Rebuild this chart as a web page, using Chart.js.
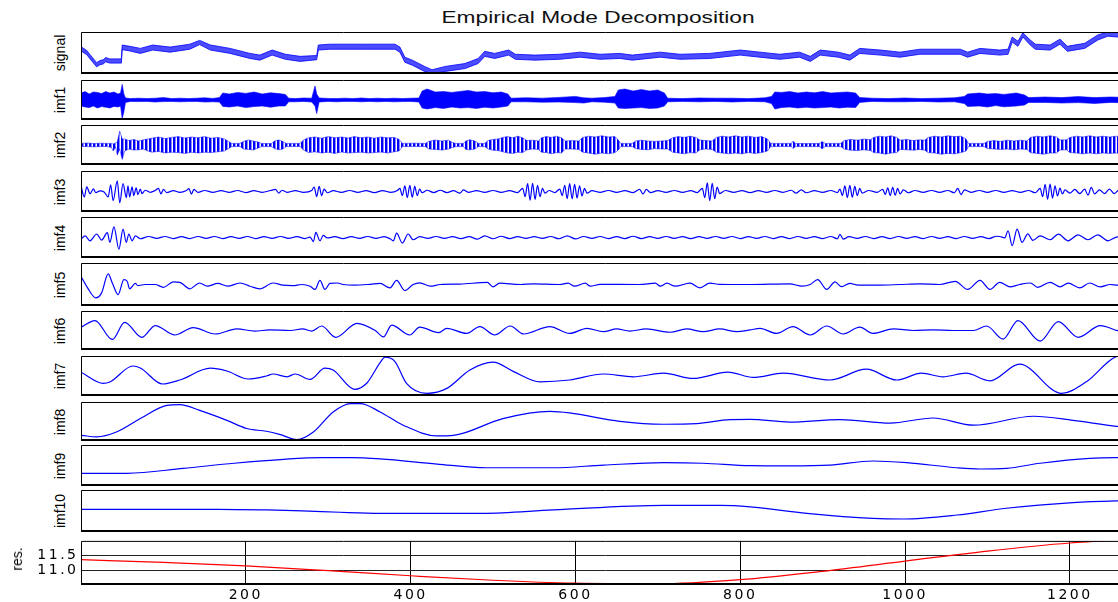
<!DOCTYPE html>
<html>
<head>
<meta charset="utf-8">
<title>Empirical Mode Decomposition</title>
<script src="https://cdn.jsdelivr.net/npm/chart.js@4.4.1/dist/chart.umd.min.js"></script>
<style>
  html, body { margin: 0; padding: 0; background: #fff; }
  body { position: relative; width: 1118px; height: 602px; overflow: hidden; font-family: "Liberation Sans", Arial, sans-serif; color: #000; }
  canvas { position: absolute; }
  #title { position: absolute; left: 598px; top: 10px; font-size: 16px; line-height: 16px; white-space: nowrap; transform: translateX(-50%) scaleX(1.42); color: #111; }
  .lbl { position: absolute; font-size: 14px; line-height: 14px; white-space: nowrap; transform: translate(-50%, -50%) rotate(-90deg); }
</style>
</head>
<body>
<div id="title">Empirical Mode Decomposition</div>
<script>
// sample axis
const X_MAX = 1273;
const xTicks = [200, 400, 600, 800, 1000, 1200];
const resTicks = [11.0, 11.5];
const panelLabels = ['signal', 'imf1', 'imf2', 'imf3', 'imf4', 'imf5', 'imf6', 'imf7', 'imf8', 'imf9', 'imf10'];

// noisy / high frequency traces: [sample, upper edge, lower edge]
// (signal is relative to its panel, 0..1)
const signalBand = [[0,0.65,0.55],[7,0.56,0.46],[11,0.46,0.36],[19,0.27,0.17],[23,0.32,0.22],[27,0.34,0.24],[30,0.39,0.29],[35,0.36,0.26],[49,0.36,0.26],[50,0.69,0.58],[59,0.66,0.55],[72,0.61,0.49],[87,0.69,0.57],[108,0.64,0.52],[132,0.71,0.59],[144,0.8,0.7],[157,0.69,0.57],[181,0.61,0.49],[205,0.49,0.37],[217,0.45,0.33],[232,0.57,0.45],[248,0.47,0.35],[266,0.42,0.3],[286,0.44,0.34],[288,0.69,0.57],[302,0.71,0.59],[339,0.71,0.59],[381,0.71,0.59],[387,0.64,0.52],[393,0.4,0.28],[402,0.33,0.21],[417,0.18,0.06],[426,0.1,0.01],[442,0.18,0.06],[466,0.25,0.13],[482,0.37,0.25],[490,0.54,0.42],[502,0.49,0.37],[519,0.57,0.45],[527,0.47,0.35],[551,0.45,0.33],[581,0.47,0.35],[606,0.52,0.4],[630,0.47,0.35],[654,0.49,0.37],[669,0.45,0.33],[703,0.52,0.4],[727,0.47,0.35],[763,0.49,0.37],[800,0.57,0.45],[824,0.52,0.4],[848,0.47,0.35],[872,0.52,0.4],[885,0.42,0.3],[897,0.57,0.45],[919,0.52,0.4],[933,0.45,0.33],[945,0.61,0.49],[970,0.57,0.45],[994,0.52,0.4],[1018,0.59,0.47],[1067,0.59,0.47],[1076,0.52,0.4],[1091,0.61,0.49],[1115,0.57,0.45],[1125,0.59,0.47],[1130,0.88,0.76],[1137,0.78,0.66],[1143,0.98,0.88],[1152,0.81,0.69],[1158,0.71,0.59],[1176,0.69,0.57],[1188,0.83,0.71],[1197,0.66,0.54],[1218,0.73,0.61],[1234,0.93,0.81],[1246,1.0,0.9],[1258,0.99,0.88],[1273,0.99,0.88]];

const imf1Band = [[0,0.35,-0.3],[5,0.42,-0.35],[10,0.3,-0.38],[15,0.4,-0.3],[20,0.38,-0.4],[25,0.32,-0.33],[30,0.42,-0.36],[35,0.35,-0.4],[40,0.4,-0.32],[45,0.3,-0.35],[48,0.35,-0.3],[50,0.78,-0.92],[52,0.3,-0.6],[54,0.1,-0.12],[60,0.07,-0.07],[70,0.09,-0.08],[80,0.07,-0.07],[90,0.09,-0.1],[100,0.12,-0.08],[110,0.07,-0.07],[120,0.09,-0.09],[130,0.07,-0.08],[140,0.09,-0.07],[150,0.11,-0.1],[160,0.08,-0.09],[168,0.12,-0.1],[172,0.35,-0.32],[180,0.3,-0.35],[190,0.38,-0.3],[200,0.33,-0.38],[210,0.4,-0.33],[220,0.3,-0.3],[230,0.36,-0.36],[240,0.32,-0.3],[248,0.28,-0.3],[252,0.09,-0.09],[260,0.07,-0.09],[270,0.1,-0.07],[280,0.09,-0.1],[284,0.7,-0.3],[286,0.3,-0.68],[289,0.1,-0.1],[300,0.08,-0.07],[310,0.07,-0.09],[320,0.09,-0.07],[330,0.07,-0.07],[340,0.1,-0.09],[350,0.07,-0.07],[360,0.09,-0.09],[370,0.07,-0.07],[380,0.09,-0.09],[390,0.07,-0.08],[400,0.09,-0.07],[410,0.1,-0.1],[414,0.45,-0.4],[420,0.55,-0.45],[430,0.4,-0.38],[440,0.42,-0.42],[450,0.38,-0.35],[460,0.43,-0.4],[470,0.48,-0.38],[480,0.4,-0.42],[490,0.42,-0.36],[500,0.36,-0.4],[510,0.4,-0.35],[518,0.3,-0.3],[522,0.09,-0.09],[540,0.11,-0.09],[560,0.09,-0.11],[580,0.13,-0.1],[600,0.18,-0.13],[610,0.11,-0.15],[620,0.09,-0.09],[635,0.12,-0.11],[648,0.18,-0.15],[652,0.5,-0.4],[660,0.55,-0.42],[670,0.45,-0.4],[680,0.52,-0.38],[690,0.45,-0.42],[700,0.5,-0.4],[708,0.35,-0.3],[712,0.09,-0.09],[730,0.07,-0.07],[750,0.1,-0.09],[770,0.09,-0.07],[790,0.09,-0.1],[810,0.07,-0.07],[830,0.11,-0.09],[838,0.18,-0.18],[842,0.4,-0.45],[850,0.38,-0.38],[860,0.42,-0.35],[870,0.35,-0.4],[880,0.4,-0.36],[890,0.36,-0.4],[900,0.42,-0.38],[910,0.35,-0.35],[920,0.38,-0.4],[930,0.4,-0.36],[940,0.35,-0.38],[945,0.12,-0.12],[960,0.09,-0.07],[980,0.07,-0.09],[1000,0.1,-0.09],[1020,0.07,-0.07],[1040,0.09,-0.1],[1060,0.11,-0.09],[1072,0.18,-0.18],[1076,0.3,-0.32],[1090,0.35,-0.3],[1100,0.3,-0.35],[1110,0.32,-0.28],[1120,0.28,-0.34],[1135,0.35,-0.3],[1145,0.25,-0.25],[1150,0.12,-0.12],[1170,0.15,-0.12],[1190,0.12,-0.15],[1210,0.17,-0.13],[1230,0.12,-0.17],[1250,0.15,-0.12],[1273,0.12,-0.15]];

const imf2Band = [[0,0.08,-0.07],[8,0.1,-0.08],[16,0.07,-0.09],[24,0.09,-0.07],[32,0.08,-0.08],[37,0.08,-0.12],[39,0.05,-0.3],[42,0.1,-0.1],[44,0.15,-0.5],[47,0.7,-0.2],[50,0.3,-0.72],[53,0.3,-0.3],[58,0.22,-0.2],[64,0.28,-0.25],[70,0.2,-0.24],[76,0.26,-0.2],[81,0.3,-0.3],[86,0.34,-0.36],[94,0.4,-0.32],[102,0.32,-0.4],[110,0.38,-0.36],[118,0.42,-0.38],[126,0.35,-0.42],[134,0.4,-0.36],[142,0.36,-0.4],[150,0.42,-0.36],[158,0.34,-0.38],[166,0.38,-0.34],[174,0.3,-0.3],[179,0.18,-0.18],[183,0.08,-0.08],[193,0.08,-0.07],[197,0.18,-0.2],[203,0.25,-0.22],[209,0.2,-0.25],[215,0.15,-0.15],[219,0.08,-0.08],[231,0.07,-0.08],[235,0.2,-0.18],[240,0.25,-0.24],[245,0.18,-0.2],[249,0.08,-0.08],[266,0.08,-0.07],[270,0.25,-0.25],[276,0.36,-0.38],[284,0.4,-0.34],[292,0.34,-0.4],[300,0.42,-0.36],[308,0.36,-0.42],[316,0.4,-0.35],[324,0.35,-0.4],[332,0.42,-0.38],[340,0.36,-0.36],[348,0.4,-0.4],[356,0.34,-0.38],[364,0.4,-0.35],[372,0.36,-0.4],[380,0.38,-0.34],[386,0.28,-0.3],[390,0.08,-0.08],[405,0.09,-0.07],[418,0.08,-0.08],[422,0.18,-0.2],[430,0.25,-0.22],[438,0.2,-0.25],[446,0.24,-0.2],[451,0.12,-0.12],[455,0.08,-0.08],[464,0.08,-0.08],[467,0.2,-0.22],[472,0.26,-0.24],[478,0.2,-0.2],[482,0.08,-0.08],[490,0.08,-0.08],[494,0.22,-0.2],[500,0.28,-0.26],[506,0.3,-0.28],[512,0.38,-0.34],[518,0.42,-0.4],[524,0.36,-0.42],[530,0.44,-0.36],[536,0.36,-0.38],[541,0.22,-0.24],[548,0.24,-0.2],[555,0.2,-0.22],[559,0.36,-0.36],[565,0.42,-0.38],[571,0.38,-0.44],[577,0.44,-0.38],[583,0.36,-0.4],[588,0.2,-0.2],[596,0.22,-0.2],[604,0.2,-0.22],[609,0.38,-0.36],[616,0.44,-0.4],[624,0.4,-0.46],[632,0.46,-0.4],[640,0.4,-0.44],[648,0.42,-0.38],[652,0.25,-0.25],[655,0.08,-0.08],[669,0.08,-0.08],[673,0.2,-0.18],[680,0.24,-0.22],[688,0.2,-0.24],[696,0.18,-0.18],[704,0.2,-0.2],[712,0.22,-0.2],[718,0.36,-0.36],[725,0.42,-0.4],[732,0.38,-0.44],[739,0.44,-0.38],[746,0.38,-0.4],[751,0.25,-0.24],[758,0.22,-0.2],[766,0.2,-0.22],[771,0.38,-0.36],[778,0.44,-0.4],[786,0.4,-0.44],[794,0.46,-0.4],[802,0.4,-0.44],[810,0.44,-0.38],[818,0.38,-0.42],[826,0.42,-0.38],[833,0.3,-0.3],[837,0.08,-0.08],[850,0.08,-0.07],[862,0.08,-0.08],[864,0.2,-0.18],[867,0.08,-0.08],[882,0.07,-0.08],[897,0.08,-0.08],[899,0.18,-0.2],[903,0.08,-0.08],[922,0.08,-0.08],[926,0.22,-0.2],[934,0.28,-0.26],[942,0.24,-0.28],[950,0.3,-0.24],[958,0.26,-0.28],[962,0.38,-0.38],[969,0.44,-0.4],[976,0.4,-0.46],[983,0.46,-0.4],[990,0.38,-0.38],[994,0.24,-0.22],[1002,0.28,-0.24],[1010,0.22,-0.26],[1018,0.26,-0.22],[1024,0.24,-0.26],[1028,0.38,-0.38],[1036,0.44,-0.4],[1044,0.4,-0.46],[1052,0.46,-0.42],[1060,0.42,-0.44],[1068,0.44,-0.38],[1074,0.3,-0.3],[1077,0.08,-0.08],[1096,0.08,-0.08],[1100,0.18,-0.18],[1108,0.22,-0.2],[1116,0.18,-0.22],[1124,0.24,-0.2],[1132,0.2,-0.24],[1140,0.24,-0.2],[1148,0.2,-0.22],[1152,0.38,-0.38],[1160,0.44,-0.42],[1168,0.4,-0.46],[1176,0.46,-0.4],[1184,0.4,-0.4],[1188,0.25,-0.25],[1196,0.26,-0.24],[1200,0.38,-0.38],[1208,0.44,-0.4],[1216,0.4,-0.44],[1224,0.46,-0.4],[1232,0.4,-0.44],[1240,0.44,-0.4],[1248,0.4,-0.42],[1256,0.44,-0.4],[1264,0.4,-0.44],[1273,0.42,-0.4]];

// oscillating modes: [sample, value]
const imf3 = [[0,0.28],[4,-0.26],[7,0.23],[11,-0.11],[15,0.13],[18,-0.06],[23,0.03],[28,-0.02],[33,-0.26],[36,0.33],[39,-0.45],[44,0.52],[47,-0.55],[51,0.38],[55,-0.3],[57,0.28],[59,-0.26],[62,0.23],[64,-0.2],[67,0.18],[69,-0.15],[72,0.12],[74,-0.1],[78,0.06],[84,-0.04],[90,0.05],[94,0.15],[97,-0.12],[100,0.1],[104,-0.05],[112,0.04],[120,-0.04],[128,0.05],[131,0.14],[134,-0.13],[137,0.1],[142,-0.04],[150,0.05],[160,-0.04],[170,0.04],[180,-0.04],[190,0.05],[200,-0.05],[210,0.04],[220,-0.04],[230,0.05],[236,0.1],[240,-0.08],[244,0.06],[250,-0.04],[260,0.04],[270,-0.04],[280,0.05],[283,0.22],[286,-0.25],[289,0.25],[292,-0.2],[295,0.12],[299,-0.06],[306,0.04],[316,-0.04],[326,0.05],[336,-0.04],[346,0.04],[356,-0.05],[366,0.04],[376,-0.04],[384,0.05],[387,0.15],[390,-0.2],[393,0.28],[396,-0.3],[399,0.3],[402,-0.28],[405,0.25],[408,-0.2],[411,0.12],[414,-0.06],[420,0.06],[428,-0.05],[436,0.06],[444,-0.05],[452,0.04],[460,-0.08],[464,0.08],[470,-0.04],[480,0.04],[490,-0.04],[500,0.05],[510,-0.04],[520,0.04],[530,-0.05],[536,0.15],[539,-0.25],[542,0.38],[545,-0.42],[548,0.4],[551,-0.38],[554,0.3],[557,-0.25],[560,0.15],[563,-0.08],[568,0.05],[575,-0.05],[581,0.12],[584,-0.2],[587,0.3],[590,-0.35],[593,0.38],[596,-0.36],[599,0.35],[602,-0.32],[605,0.28],[608,-0.22],[611,0.15],[614,-0.08],[620,0.04],[630,-0.04],[640,0.05],[650,-0.04],[660,0.04],[670,-0.05],[678,0.1],[682,-0.12],[686,0.1],[691,-0.05],[700,0.04],[710,-0.04],[720,0.05],[730,-0.04],[740,0.04],[748,-0.05],[754,0.15],[757,-0.3],[760,0.42],[763,-0.45],[766,0.4],[769,-0.35],[772,0.22],[775,-0.1],[782,0.05],[792,-0.04],[802,0.04],[812,-0.05],[822,0.04],[832,-0.04],[842,0.05],[852,-0.04],[862,0.06],[868,-0.08],[874,0.08],[880,-0.06],[890,0.04],[900,-0.04],[910,0.05],[918,-0.05],[921,0.12],[924,-0.2],[927,0.28],[930,-0.3],[933,0.3],[936,-0.28],[939,0.25],[942,-0.2],[945,0.15],[948,-0.08],[956,0.05],[966,-0.04],[973,0.1],[976,-0.15],[979,0.18],[982,-0.2],[985,0.2],[988,-0.18],[991,0.15],[994,-0.12],[998,0.08],[1004,-0.06],[1012,0.05],[1022,-0.04],[1032,0.05],[1042,-0.04],[1052,0.05],[1060,-0.06],[1064,0.15],[1068,-0.15],[1072,0.08],[1080,-0.04],[1090,0.05],[1100,-0.04],[1110,0.05],[1120,-0.04],[1130,0.04],[1140,-0.04],[1150,0.05],[1158,-0.06],[1164,0.15],[1167,-0.25],[1170,0.35],[1173,-0.38],[1176,0.36],[1179,-0.32],[1182,0.28],[1185,-0.22],[1188,0.16],[1191,-0.12],[1194,0.08],[1200,-0.08],[1206,0.1],[1212,-0.1],[1218,0.12],[1222,-0.18],[1226,0.2],[1230,-0.12],[1236,0.08],[1242,-0.1],[1248,0.12],[1254,-0.1],[1260,0.08],[1266,-0.06],[1273,0.05]];

const imf4 = [[0,-0.08],[5,0.08],[11,-0.16],[19,0.17],[25,-0.13],[32,0.24],[35,-0.24],[40,0.52],[46,-0.57],[51,0.41],[55,-0.24],[58,0.17],[62,-0.16],[66,0.08],[72,-0.06],[82,0.05],[92,-0.04],[102,0.05],[112,-0.05],[122,0.04],[132,-0.05],[142,0.05],[152,-0.04],[162,0.05],[172,-0.05],[182,0.04],[192,-0.04],[202,0.05],[212,-0.05],[222,0.04],[232,-0.04],[242,0.05],[252,-0.04],[262,0.04],[272,-0.05],[278,0.02],[282,-0.2],[285,0.25],[290,-0.16],[294,0.1],[299,-0.02],[308,0.04],[318,-0.05],[328,0.04],[338,-0.04],[348,0.05],[358,-0.04],[368,0.04],[375,-0.06],[379,-0.16],[383,0.21],[390,-0.27],[397,0.17],[403,-0.11],[411,0.04],[421,-0.04],[431,0.05],[441,-0.04],[451,0.04],[461,-0.05],[471,0.04],[481,-0.08],[490,0.08],[500,-0.06],[510,0.06],[520,-0.05],[530,0.04],[540,-0.04],[550,0.04],[560,-0.04],[570,0.05],[580,-0.06],[590,0.08],[600,-0.07],[610,0.05],[620,-0.04],[630,0.05],[640,-0.05],[650,0.04],[660,-0.05],[670,0.06],[680,-0.05],[690,0.04],[700,-0.04],[710,0.05],[720,-0.04],[730,0.04],[740,-0.05],[750,0.04],[760,-0.04],[770,0.05],[780,-0.04],[790,0.05],[800,-0.05],[810,0.04],[820,-0.04],[830,0.05],[840,-0.05],[850,0.04],[860,-0.05],[870,0.05],[880,-0.04],[890,0.04],[900,-0.05],[910,0.05],[918,-0.06],[921,0.15],[925,-0.08],[932,0.04],[942,-0.04],[952,0.05],[962,-0.05],[972,0.04],[982,-0.05],[992,0.05],[1002,-0.04],[1012,0.04],[1022,-0.05],[1032,0.05],[1042,-0.04],[1052,0.04],[1062,-0.05],[1072,0.05],[1082,-0.04],[1092,0.04],[1102,-0.05],[1111,0.06],[1115,0.05],[1121,-0.02],[1125,0.33],[1130,-0.4],[1136,0.41],[1142,-0.24],[1149,0.18],[1155,-0.14],[1164,0.08],[1176,-0.11],[1186,0.16],[1198,-0.16],[1210,0.13],[1222,-0.11],[1234,0.13],[1246,-0.16],[1258,0.03],[1273,-0.05]];

const imf5 = [[1,0.31],[8,-0.16],[18,-0.62],[25,-0.39],[33,0.49],[38,0.07],[45,-0.47],[52,0.23],[56,0.15],[59,-0.2],[66,0.05],[69,-0.05],[78,0],[90,0],[100,-0.13],[112,0.12],[120,0.1],[132,-0.2],[144,0.07],[153,-0.08],[166,0.05],[178,-0.08],[193,0.07],[205,-0.08],[217,-0.2],[233,0.07],[245,-0.03],[257,-0.05],[268,0],[278,-0.08],[284,-0.23],[290,0.19],[296,-0.23],[302,0.05],[311,0.07],[318,0],[332,-0.03],[351,0.01],[363,0.05],[375,-0.16],[383,0.19],[393,-0.28],[403,0],[411,0.08],[424,-0.08],[436,0],[460,0.02],[493,0.1],[500,-0.11],[508,0.06],[533,0],[549,0.03],[581,0],[591,0.06],[599,-0.08],[612,0.06],[618,-0.08],[630,0.01],[678,0],[697,0.06],[703,-0.08],[711,0.06],[721,-0.08],[739,0.06],[751,-0.16],[763,0.06],[775,0.01],[812,0],[860,0.03],[875,-0.08],[885,0],[894,0.23],[905,-0.23],[915,0.12],[923,-0.1],[933,0.05],[943,-0.03],[970,-0.03],[994,0],[1018,0.03],[1042,0],[1061,0.15],[1076,-0.23],[1091,0.19],[1103,-0.23],[1115,0.1],[1127,-0.11],[1139,0],[1152,0.07],[1161,-0.13],[1176,0.1],[1188,-0.11],[1198,0.06],[1212,-0.16],[1224,0.07],[1237,-0.11],[1249,0],[1258,-0.03],[1273,0.02]];

const imf6 = [[0,0.17],[17,0.51],[38,-0.46],[53,0.42],[74,-0.35],[90,0.25],[114,-0.23],[136,0.15],[163,-0.18],[189,0.08],[211,-0.03],[229,0.03],[254,0],[269,0.08],[280,-0.03],[292,0.23],[309,-0.35],[335,0.37],[357,0.0],[367,-0.33],[377,0.28],[399,-0.23],[411,0.17],[434,-0.11],[444,0.11],[468,-0.15],[484,0.2],[502,-0.23],[521,0.23],[537,-0.18],[569,0.2],[593,-0.15],[614,0.11],[634,-0.06],[650,0.08],[666,-0.03],[686,0.08],[715,-0.09],[735,0.08],[755,-0.06],[775,0.08],[796,-0.06],[812,0.03],[824,0.11],[844,-0.15],[864,0.2],[885,-0.23],[905,0.23],[925,-0.18],[945,0.17],[961,-0.15],[986,0.08],[1010,0],[1034,0.03],[1058,0],[1083,0],[1099,0.23],[1119,-0.44],[1137,0.51],[1164,-0.54],[1186,0.46],[1210,-0.35],[1237,0.25],[1258,-0.01],[1273,-0.15]];

const imf7 = [[0,0.19],[27,-0.37],[35,-0.3],[63,0.5],[72,0.4],[99,-0.4],[120,-0.2],[157,0.39],[177,0.25],[203,-0.15],[225,0],[233,0.1],[250,-0.04],[260,0.1],[278,-0.17],[296,0.39],[306,0.3],[332,-0.67],[347,-0.35],[363,0.67],[369,0.94],[381,0.72],[395,-0.37],[420,-0.87],[444,-0.62],[472,0.3],[500,0.69],[525,0.22],[557,-0.29],[593,-0.2],[634,0.1],[670,-0.04],[707,0.14],[743,-0.12],[785,0.19],[816,-0.07],[852,0.14],[909,-0.2],[953,0.34],[990,-0.2],[1020,0.14],[1046,-0.04],[1074,0.14],[1103,-0.24],[1139,0.59],[1190,-0.87],[1220,-0.29],[1257,0.98],[1273,1.05]];

const imf8 = [[1,-0.71],[19,-0.79],[43,-0.54],[72,0.15],[104,0.83],[120,0.87],[144,0.57],[177,0.06],[201,-0.36],[225,-0.5],[241,-0.66],[262,-0.93],[282,-0.54],[306,0.49],[327,0.92],[339,0.92],[363,0.49],[391,-0.19],[432,-0.74],[452,-0.71],[512,0.15],[569,0.52],[593,0.44],[654,0.01],[707,-0.14],[747,-0.11],[788,0.1],[812,0.11],[860,-0.03],[921,0.1],[982,-0.08],[1034,0.18],[1083,-0.19],[1156,0.27],[1204,0.06],[1257,-0.25],[1273,-0.3]];

const imf9 = [[1,-0.38],[56,-0.38],[124,-0.14],[186,0.11],[246,0.3],[294,0.38],[327,0.38],[363,0.32],[432,0.07],[492,-0.11],[573,-0.11],[634,0.02],[707,0.14],[755,0.11],[812,-0.01],[860,-0.02],[909,0.02],[961,0.22],[1002,0.14],[1063,-0.11],[1091,-0.17],[1123,-0.14],[1164,0.11],[1224,0.35],[1257,0.38],[1273,0.38]];

const imf10 = [[0,0.08],[166,0.08],[226,0.05],[269,0.01],[314,-0.06],[363,-0.11],[399,-0.11],[488,-0.11],[573,0.05],[707,0.27],[775,0.27],[812,0.2],[881,-0.11],[961,-0.35],[998,-0.38],[1063,-0.19],[1123,0.13],[1204,0.4],[1257,0.48],[1273,0.49]];

const residue = [[0,11.37],[100,11.28],[200,11.16],[300,11.0],[400,10.83],[500,10.68],[600,10.58],[700,10.56],[800,10.7],[900,10.98],[1000,11.32],[1100,11.66],[1200,11.93],[1273,12.04]];

// layout
const LEFT = 81, PLOT_W = 1049;
const panelTops = [32, 80, 125, 171, 217, 263, 311, 356, 402, 445, 490];
const panelHeights = [42, 40, 40, 41, 41, 43, 39, 40, 39, 41, 42];
const BLUE = '#0000ff';
const TICK_FONT = { family: '"DejaVu Sans", sans-serif', size: 14 };

Chart.defaults.font.family = '"Liberation Sans", Arial, sans-serif';

const boxPlugin = {
  id: 'box',
  afterDraw(chart) {
    const { ctx, chartArea: a } = chart;
    ctx.save();
    ctx.strokeStyle = '#000';
    ctx.lineWidth = 1;
    ctx.beginPath();
    ctx.moveTo(a.left + 0.5, a.bottom);
    ctx.lineTo(a.left + 0.5, a.top + 0.5);
    ctx.lineTo(a.right, a.top + 0.5);
    ctx.stroke();
    ctx.lineWidth = 2;
    ctx.beginPath();
    ctx.moveTo(a.left, a.bottom - 1);
    ctx.lineTo(a.right, a.bottom - 1);
    ctx.stroke();
    ctx.restore();
  }
};

const spacingPlugin = {
  id: 'spacing',
  beforeDraw(chart) { chart.ctx.letterSpacing = '2.5px'; }
};

const toXY = (pairs) => pairs.map(p => ({ x: p[0], y: p[1] }));

function lineSet(pairs) {
  return {
    data: toXY(pairs), borderColor: BLUE, borderWidth: 1.2, pointRadius: 0,
    fill: false, cubicInterpolationMode: 'monotone'
  };
}

function bandSets(triples, fillStyle, edge) {
  return [
    { data: triples.map(t => ({ x: t[0], y: t[2] })), borderColor: BLUE, borderWidth: edge, pointRadius: 0, fill: false, tension: 0 },
    { data: triples.map(t => ({ x: t[0], y: t[1] })), borderColor: BLUE, borderWidth: edge, pointRadius: 0, fill: '-1', backgroundColor: fillStyle, tension: 0 }
  ];
}

// vertical hatch that stands in for the dense oscillation inside an envelope
function hatch(ctx) {
  const p = document.createElement('canvas');
  p.width = 4; p.height = 1;
  const g = p.getContext('2d');
  g.fillStyle = '#0000ff'; g.fillRect(0, 0, 2, 1);
  g.fillStyle = '#8c8cff'; g.fillRect(2, 0, 1, 1);
  g.fillStyle = '#ffffff'; g.fillRect(3, 0, 1, 1);
  return ctx.createPattern(p, 'repeat');
}

function makeCanvas(left, top, w, h) {
  const c = document.createElement('canvas');
  c.width = w; c.height = h;
  c.style.left = left + 'px'; c.style.top = top + 'px';
  document.body.appendChild(c);
  return c;
}

function addLabel(text, x, y) {
  const d = document.createElement('div');
  d.className = 'lbl';
  d.textContent = text;
  d.style.left = x + 'px'; d.style.top = y + 'px';
  document.body.appendChild(d);
}

const common = {
  responsive: false, animation: false, events: [], devicePixelRatio: 1,
  plugins: { legend: { display: false }, tooltip: { enabled: false } }
};

function panel(i, buildSets, yMin, yMax) {
  const c = makeCanvas(LEFT, panelTops[i], PLOT_W, panelHeights[i]);
  new Chart(c, {
    type: 'line',
    data: { datasets: buildSets(c.getContext('2d')) },
    options: Object.assign({}, common, {
      layout: { padding: 0 },
      scales: {
        x: { type: 'linear', min: 0, max: X_MAX, display: false },
        y: { min: yMin, max: yMax, display: false }
      }
    }),
    plugins: [boxPlugin]
  });
  addLabel(panelLabels[i], 60, panelTops[i] + panelHeights[i] / 2);
}

panel(0, () => bandSets(signalBand, 'rgba(0,0,255,0.7)', 0.8), 0, 1);
panel(1, () => bandSets(imf1Band, BLUE, 0.6), -1, 1);
panel(2, ctx => bandSets(imf2Band, hatch(ctx), 0.5), -1, 1);
panel(3, () => [lineSet(imf3)], -1, 1);
panel(4, () => [lineSet(imf4)], -1, 1);
panel(5, () => [lineSet(imf5)], -1, 1);
panel(6, () => [lineSet(imf6)], -1, 1);
panel(7, () => [lineSet(imf7)], -1, 1);
panel(8, () => [lineSet(imf8)], -1, 1);
panel(9, () => [lineSet(imf9)], -1, 1);
panel(10, () => [lineSet(imf10)], -1, 1);

// residue panel with the axes
const resCanvas = makeCanvas(0, 530, 1130, 72);
new Chart(resCanvas, {
  type: 'line',
  data: { datasets: [{ data: toXY(residue), borderColor: '#ff0000', borderWidth: 1.2, pointRadius: 0, fill: false, cubicInterpolationMode: 'monotone' }] },
  options: Object.assign({}, common, {
    layout: { padding: { top: 6, right: 0, bottom: 0, left: 0 } },
    scales: {
      x: {
        type: 'linear', min: 0, max: X_MAX,
        afterBuildTicks: s => { s.ticks = xTicks.map(v => ({ value: v })); },
        afterFit: s => { s.height = 17; },
        grid: { color: '#000', lineWidth: 1, drawTicks: false },
        border: { display: false },
        ticks: { padding: 2, color: '#000', font: TICK_FONT, maxRotation: 0, autoSkip: false, callback: v => String(v) }
      },
      y: {
        min: 10.52, max: 12.0,
        afterBuildTicks: s => { s.ticks = resTicks.map(v => ({ value: v })); },
        afterFit: s => { s.width = 81; },
        grid: { color: '#222', lineWidth: 1, drawTicks: false },
        border: { display: false },
        ticks: { padding: 2.5, color: '#000', font: TICK_FONT, callback: v => v.toFixed(1) }
      }
    }
  }),
  plugins: [boxPlugin, spacingPlugin]
});
addLabel('res.', 17, 559);
</script>
</body>
</html>
